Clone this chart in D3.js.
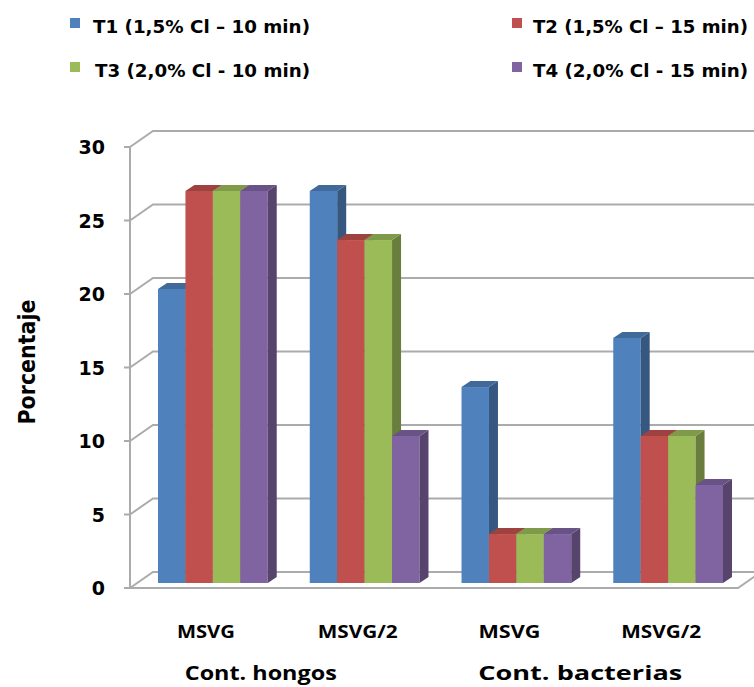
<!DOCTYPE html>
<html>
<head>
<meta charset="utf-8">
<script src="https://cdn.jsdelivr.net/npm/d3@7"></script>
<style>
  html, body { margin: 0; padding: 0; background: #fff; }
  svg { display: block; }
</style>
</head>
<body>
<svg id="chart" width="754" height="687"></svg>
<script>
// Sub-categories (culture medium) along the x axis, and their parent groups
const categories = ["MSVG", "MSVG/2", "MSVG", "MSVG/2"];
const groups = ["Cont. hongos", "Cont. bacterias"];

// Treatments
const seriesNames = [
  "T1  (1,5% Cl – 10 min)",
  "T2  (1,5% Cl – 15 min)",
  "T3  (2,0% Cl - 10 min)",
  "T4  (2,0% Cl - 15 min)"
];

// Contamination percentage per treatment, one value per category
const T1 = [20.0, 26.67, 13.33, 16.67];
const T2 = [26.67, 23.33, 3.33, 10.0];
const T3 = [26.67, 23.33, 3.33, 10.0];
const T4 = [26.67, 10.0, 3.33, 6.67];

const yTicks = [0, 5, 10, 15, 20, 25, 30];

const seriesValues = [T1, T2, T3, T4];
const colors = ["#4F81BD", "#C0504D", "#9BBB59", "#8064A2"];

const svg = d3.select("#chart");

// --- 3D box geometry -------------------------------------------------------
const wallDX = 23, wallDY = -16;     // depth offset of the back wall
const barDX = 9, barDY = -6;         // depth of each bar
const axisX = 130;
const floorRight = 738;

const y = d3.scaleLinear().domain([0, 30]).range([588, 147]);     // front axis
const yBar = d3.scaleLinear().domain([0, 30]).range([583, 142]);  // bar plane

const idx = d3.range(categories.length);
const x0 = d3.scaleBand().domain(idx).range([137, 744])
  .paddingInner(0.277).paddingOuter(0.1385);
const x1 = d3.scaleBand().domain(d3.range(seriesNames.length))
  .range([0, x0.bandwidth()]);

const gridColor = "#ABABAB";
const grid = svg.append("g");

// Back wall gridlines with the diagonal segment on the side wall
yTicks.forEach(t => {
  const yy = y(t);
  grid.append("path")
    .attr("d", `M${axisX},${yy} L${axisX + wallDX},${yy + wallDY} L760,${yy + wallDY}`)
    .attr("fill", "none").attr("stroke", gridColor).attr("stroke-width", 2);
  grid.append("line")
    .attr("x1", axisX - 6).attr("x2", axisX).attr("y1", yy).attr("y2", yy)
    .attr("stroke", gridColor).attr("stroke-width", 2);
});

// Front vertical axis
grid.append("line")
  .attr("x1", axisX).attr("x2", axisX).attr("y1", y(30)).attr("y2", y(0))
  .attr("stroke", gridColor).attr("stroke-width", 2);

// Floor front edge and right edge
grid.append("path")
  .attr("d", `M${axisX},${y(0)} L${floorRight},${y(0)} L${floorRight + wallDX},${y(0) + wallDY}`)
  .attr("fill", "none").attr("stroke", gridColor).attr("stroke-width", 2);

// Y tick labels
svg.append("g").selectAll("text").data(yTicks).join("text")
  .attr("x", 105).attr("y", d => y(d) + 7)
  .attr("text-anchor", "end")
  .attr("font-family", "DejaVu Sans, Verdana, sans-serif")
  .attr("font-weight", "bold").attr("font-size", 19)
  .attr("fill", "#000")
  .text(d => d);

// Y axis title
svg.append("text")
  .attr("transform", "translate(35,362) rotate(-90)")
  .attr("text-anchor", "middle")
  .attr("font-family", "DejaVu Sans, Verdana, sans-serif")
  .attr("font-weight", "bold").attr("font-size", 23)
  .attr("textLength", 125).attr("lengthAdjust", "spacingAndGlyphs")
  .attr("fill", "#000")
  .text("Porcentaje");

// --- Bars ------------------------------------------------------------------
const bars = svg.append("g");
idx.forEach(ci => {
  seriesValues.forEach((vals, si) => {
    const v = vals[ci];
    const c = d3.color(colors[si]);
    const xl = x0(ci) + x1(si);
    const w = x1.bandwidth();
    const yt = yBar(v), yb = yBar(0);
    const g = bars.append("g");
    // front face
    g.append("rect").attr("x", xl).attr("y", yt).attr("width", w).attr("height", yb - yt)
      .attr("fill", c.formatHex());
    // side face
    g.append("path")
      .attr("d", `M${xl + w},${yt} L${xl + w + barDX},${yt + barDY} L${xl + w + barDX},${yb + barDY} L${xl + w},${yb}Z`)
      .attr("fill", c.darker(1.1).formatHex());
    // top face
    g.append("path")
      .attr("d", `M${xl},${yt} L${xl + barDX},${yt + barDY} L${xl + w + barDX},${yt + barDY} L${xl + w},${yt}Z`)
      .attr("fill", c.darker(0.55).formatHex());
  });
});

// --- Category labels ---------------------------------------------------------
const labelFont = "Open Sans, DejaVu Sans, sans-serif";
const catWidths = [58, 80, 62, 80];
svg.append("g").selectAll("text").data(idx).join("text")
  .attr("x", d => x0(d) + x0.bandwidth() / 2 - 7)
  .attr("y", 638)
  .attr("text-anchor", "middle")
  .attr("font-family", labelFont).attr("font-weight", "bold").attr("font-size", 17)
  .attr("textLength", d => catWidths[d]).attr("lengthAdjust", "spacingAndGlyphs")
  .attr("fill", "#000")
  .text(d => categories[d]);

// Group labels sit under their pair of categories
const groupWidths = [152, 204];
const groupShift = [-28, -12];
svg.append("g").selectAll("text").data(groups).join("text")
  .attr("x", (d, i) => (x0(2 * i) + x0(2 * i + 1) + x0.bandwidth()) / 2 + groupShift[i])
  .attr("y", 680)
  .attr("text-anchor", "middle")
  .attr("font-family", labelFont).attr("font-weight", "bold").attr("font-size", 20)
  .attr("textLength", (d, i) => groupWidths[i]).attr("lengthAdjust", "spacingAndGlyphs")
  .attr("fill", "#000")
  .text(d => d);

// --- Legend ------------------------------------------------------------------
const legendPos = [
  { sx: 70, tx: 93, y: 18 },
  { sx: 512, tx: 533, y: 18 },
  { sx: 70, tx: 95, y: 62 },
  { sx: 512, tx: 533, y: 62 }
];
const legendWidths = [217, 215, 215, 215];
const legend = svg.append("g");
seriesNames.forEach((name, i) => {
  const p = legendPos[i];
  legend.append("rect").attr("x", p.sx).attr("y", p.y).attr("width", 10).attr("height", 10)
    .attr("fill", colors[i]);
  legend.append("text")
    .attr("x", p.tx).attr("y", p.y + 15)
    .attr("font-family", "DejaVu Sans, Verdana, sans-serif")
    .attr("font-weight", "bold").attr("font-size", 18)
    .attr("textLength", legendWidths[i]).attr("lengthAdjust", "spacingAndGlyphs")
    .attr("fill", "#000")
    .text(name);
});
</script>
</body>
</html>
